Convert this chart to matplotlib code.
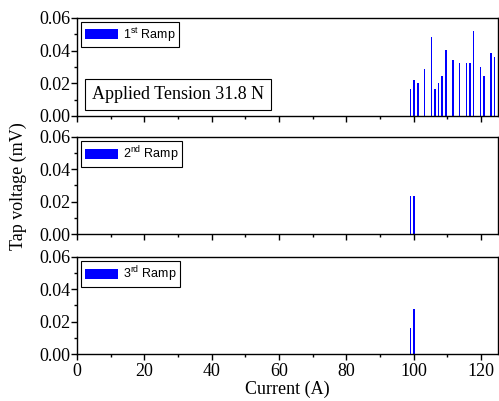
import matplotlib
matplotlib.use('Agg')
import matplotlib.pyplot as plt
from matplotlib.patches import Patch
from matplotlib.ticker import MultipleLocator

# Ramp 1
current_1 = [99.0, 100.1, 101.2, 103.2, 105.2, 106.3, 107.3, 108.4, 109.5,
             111.6, 113.6, 115.6, 116.7, 117.7, 119.8, 120.9, 122.9, 124.0]
voltage_1 = [0.0164, 0.0223, 0.0203, 0.0285, 0.0481, 0.0164, 0.0205, 0.0244, 0.0403,
             0.0342, 0.0324, 0.0324, 0.0324, 0.0522, 0.0303, 0.0244, 0.0383, 0.0362]
# Ramp 2
current_2 = [99.0, 100.0]
voltage_2 = [0.0238, 0.0238]
# Ramp 3
current_3 = [99.0, 100.1]
voltage_3 = [0.016, 0.0276]

ramp_labels = ['1$^{\\rm st}$ Ramp', '2$^{\\rm nd}$ Ramp', '3$^{\\rm rd}$ Ramp']
tension_text = 'Applied Tension 31.8 N'

plt.rcParams['font.family'] = 'Liberation Serif'
plt.rcParams['mathtext.fontset'] = 'custom'
plt.rcParams['mathtext.rm'] = 'Liberation Sans'

fig = plt.figure(figsize=(4.99, 4.01), dpi=100)
W, H = 499, 401
left, right = 77 / W, 498 / W
panels = [(18, 116), (136.5, 234.3), (256.5, 354.3)]
data = [(current_1, voltage_1), (current_2, voltage_2), (current_3, voltage_3)]

axes = []
for i, ((top, bottom), (x, y)) in enumerate(zip(panels, data)):
    ax = fig.add_axes([left, 1 - bottom / H, right - left, (bottom - top) / H])
    ax.bar(x, y, width=0.45, color='blue', linewidth=0)
    ax.set_xlim(0, 125)
    ax.set_ylim(0, 0.06)
    ax.set_yticks([0.0, 0.02, 0.04, 0.06])
    ax.yaxis.set_major_formatter(plt.FormatStrFormatter('%.2f'))
    ax.yaxis.set_minor_locator(MultipleLocator(0.01))
    ax.xaxis.set_major_locator(MultipleLocator(20))
    ax.xaxis.set_minor_locator(MultipleLocator(10))
    ax.tick_params(which='major', direction='out', length=4, width=1, labelsize=13)
    ax.tick_params(which='minor', direction='out', length=2.5, width=1)
    ax.tick_params(axis='y', pad=1)
    ax.tick_params(axis='x', pad=2)
    if i < 2:
        ax.tick_params(axis='x', labelbottom=False)
    for s in ax.spines.values():
        s.set_linewidth(1)
    leg = ax.legend([Patch(facecolor='blue', edgecolor='none')], [ramp_labels[i]],
                    loc='upper left', fancybox=False, edgecolor='black',
                    prop={'family': 'Liberation Sans', 'size': 9},
                    handlelength=2.7, handleheight=0.85, handletextpad=0.4,
                    borderpad=0.25, borderaxespad=0.35, framealpha=1)
    leg.get_frame().set_linewidth(0.8)
    axes.append(ax)

axes[0].text(0.035, 0.22, tension_text, transform=axes[0].transAxes, fontsize=13,
             va='center', ha='left',
             bbox=dict(boxstyle='square,pad=0.4', facecolor='white', edgecolor='black', linewidth=0.8))

axes[2].set_xlabel('Current (A)', fontsize=13, labelpad=1)
fig.text(0.036, 1 - 186 / H, 'Tap voltage (mV)', rotation=90, fontsize=13, va='center', ha='center')

fig.savefig('out.png', dpi=100)
